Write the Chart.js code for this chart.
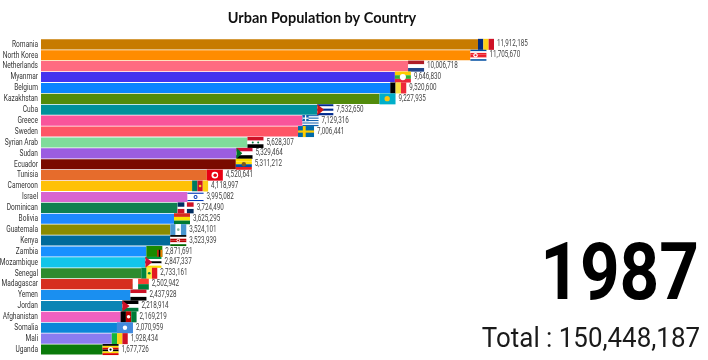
<!DOCTYPE html>
<html>
<head>
<meta charset="utf-8">
<title>Urban Population by Country</title>
<script src="https://cdn.jsdelivr.net/npm/chart.js@4"></script>
<style>
  html, body { margin: 0; padding: 0; background: #fff; }
  #wrap { width: 708px; height: 360px; }
</style>
</head>
<body>
<div id="wrap"><canvas id="grafica" width="708" height="360"></canvas></div>
<script>
const chartTitle = "Urban Population by Country";
const yearLabel = "1987";
const totalLabel = "Total : 150,448,187";

const paises = ["Romania", "North Korea", "Netherlands", "Myanmar", "Belgium", "Kazakhstan", "Cuba", "Greece", "Sweden",
  "Syrian Arab", "Sudan", "Ecuador", "Tunisia", "Cameroon", "Israel", "Dominican", "Bolivia", "Guatemala", "Kenya",
  "Zambia", "Mozambique", "Senegal", "Madagascar", "Yemen", "Jordan", "Afghanistan", "Somalia", "Mali", "Uganda"];

const valores = [11912185, 11705670, 10006718, 9646830, 9520600, 9227935, 7532650, 7129316, 7006441,
  5628307, 5329464, 5311212, 4520641, 4118997, 3995082, 3724490, 3625295, 3524101, 3523939,
  2871691, 2847337, 2733161, 2502942, 2437928, 2218914, 2169219, 2070959, 1928434, 1677726];

const colores = ["#c77b00", "#ff8c00", "#ff6b81", "#4433ee", "#0a84ff", "#528b0b", "#00909a", "#f9549b", "#ff5566",
  "#7fdc9a", "#9b5de0", "#7a0a00", "#e66c2c", "#ffc107", "#d864d0", "#0f8050", "#1e88ff", "#8b8b00", "#006a9a",
  "#1890ff", "#12c5ea", "#2e8b2e", "#d62f1f", "#1a8ff0", "#0b85b5", "#f060c0", "#0a86d8", "#8a7cf0", "#0a7a0a"];

// stripes of each flag: direction, then colours
const franjas = {
  "Romania": ["v", ["#002b7f", "#fcd116", "#ce1126"]],
  "North Korea": ["h", ["#024fa2", "#fff", "#ed1c27", "#ed1c27", "#ed1c27", "#fff", "#024fa2"]],
  "Netherlands": ["h", ["#ae1c28", "#fff", "#21468b"]],
  "Myanmar": ["h", ["#fecb00", "#34b233", "#ea2839"]],
  "Belgium": ["v", ["#000", "#fae042", "#ed2939"]],
  "Kazakhstan": ["h", ["#00afca"]],
  "Cuba": ["h", ["#002a8f", "#fff", "#002a8f", "#fff", "#002a8f"]],
  "Greece": ["h", ["#0d5eaf", "#fff", "#0d5eaf", "#fff", "#0d5eaf", "#fff", "#0d5eaf", "#fff", "#0d5eaf"]],
  "Sweden": ["h", ["#006aa7"]],
  "Syrian Arab": ["h", ["#ce1126", "#fff", "#000"]],
  "Sudan": ["h", ["#d21034", "#fff", "#000"]],
  "Ecuador": ["h", ["#ffdd00", "#ffdd00", "#034ea2", "#ed1c24"]],
  "Tunisia": ["h", ["#e70013"]],
  "Cameroon": ["v", ["#007a5e", "#ce1126", "#fcd116"]],
  "Israel": ["h", ["#fff", "#0038b8", "#fff", "#fff", "#fff", "#fff", "#fff", "#0038b8", "#fff"]],
  "Dominican": ["h", ["#fff"]],
  "Bolivia": ["h", ["#d52b1e", "#f9e300", "#007934"]],
  "Guatemala": ["v", ["#4997d0", "#fff", "#4997d0"]],
  "Kenya": ["h", ["#000", "#fff", "#bb0000", "#bb0000", "#fff", "#006600"]],
  "Zambia": ["h", ["#198a00"]],
  "Mozambique": ["h", ["#009a44", "#fff", "#000", "#fff", "#fce100"]],
  "Senegal": ["v", ["#00853f", "#fdef42", "#e31b23"]],
  "Madagascar": ["h", ["#fc3d32", "#007e3a"]],
  "Yemen": ["h", ["#ce1126", "#fff", "#000"]],
  "Jordan": ["h", ["#000", "#fff", "#007a3d"]],
  "Afghanistan": ["v", ["#000", "#be0000", "#007a36"]],
  "Somalia": ["h", ["#4189dd"]],
  "Mali": ["v", ["#14b53a", "#fcd116", "#ce1126"]],
  "Uganda": ["h", ["#000", "#fcdc04", "#d90000", "#000", "#fcdc04", "#d90000"]]
};

// extra shapes on a flag, in fractions of the flag box
const marcas = {
  "North Korea": [["disc", "#fff", 0.32, 0.5, 0.2], ["disc", "#ed1c27", 0.32, 0.5, 0.1]],
  "Myanmar": [["disc", "#fff", 0.5, 0.5, 0.28]],
  "Kazakhstan": [["disc", "#fec50c", 0.48, 0.48, 0.24]],
  "Cuba": [["tri", "#cb1515", 0.42]],
  "Greece": [["rect", "#0d5eaf", 0, 0, 0.38, 0.55], ["rect", "#fff", 0.15, 0, 0.08, 0.55], ["rect", "#fff", 0, 0.22, 0.38, 0.11]],
  "Sweden": [["rect", "#fecc00", 0.3, 0, 0.18, 1], ["rect", "#fecc00", 0, 0.4, 1, 0.2]],
  "Syrian Arab": [["disc", "#007a3d", 0.33, 0.5, 0.09], ["disc", "#007a3d", 0.67, 0.5, 0.09]],
  "Sudan": [["tri", "#007229", 0.36]],
  "Ecuador": [["disc", "#7a5a20", 0.5, 0.5, 0.2]],
  "Tunisia": [["disc", "#fff", 0.5, 0.5, 0.3], ["disc", "#e70013", 0.52, 0.5, 0.16]],
  "Cameroon": [["disc", "#fcd116", 0.5, 0.5, 0.12]],
  "Israel": [["disc", "#0038b8", 0.5, 0.5, 0.18], ["disc", "#fff", 0.5, 0.5, 0.09]],
  "Dominican": [["rect", "#002d62", 0, 0, 0.42, 0.4], ["rect", "#ce1126", 0.58, 0, 0.42, 0.4], ["rect", "#ce1126", 0, 0.6, 0.42, 0.4], ["rect", "#002d62", 0.58, 0.6, 0.42, 0.4]],
  "Guatemala": [["disc", "#8ab8a0", 0.5, 0.5, 0.12]],
  "Kenya": [["disc", "#fff", 0.5, 0.5, 0.16], ["disc", "#bb0000", 0.5, 0.5, 0.09]],
  "Zambia": [["rect", "#de2010", 0.68, 0.35, 0.1, 0.65], ["rect", "#000", 0.78, 0.35, 0.1, 0.65], ["rect", "#ef7d00", 0.88, 0.35, 0.12, 0.65]],
  "Mozambique": [["tri", "#d21034", 0.42]],
  "Senegal": [["disc", "#00853f", 0.5, 0.5, 0.12]],
  "Madagascar": [["rect", "#fff", 0, 0, 0.33, 1]],
  "Jordan": [["tri", "#ce1126", 0.45]],
  "Afghanistan": [["disc", "#fff", 0.5, 0.5, 0.16]],
  "Somalia": [["disc", "#fff", 0.5, 0.5, 0.2]],
  "Uganda": [["disc", "#fff", 0.5, 0.5, 0.24], ["disc", "#000", 0.5, 0.5, 0.1]]
};

const anchoBandera = 16;
const altoBandera = 11;

function dibujarBandera(ctx, pais, x, y) {
  const w = anchoBandera, h = altoBandera;
  const [dir, cols] = franjas[pais];
  cols.forEach((c, i) => {
    ctx.fillStyle = c;
    if (dir === "v") ctx.fillRect(x + i * w / cols.length, y, w / cols.length, h);
    else ctx.fillRect(x, y + i * h / cols.length, w, h / cols.length);
  });
  (marcas[pais] || []).forEach(m => {
    ctx.fillStyle = m[1];
    if (m[0] === "rect") {
      ctx.fillRect(x + m[2] * w, y + m[3] * h, m[4] * w, m[5] * h);
    } else if (m[0] === "disc") {
      ctx.beginPath();
      ctx.arc(x + m[2] * w, y + m[3] * h, m[4] * h, 0, Math.PI * 2);
      ctx.fill();
    } else {
      ctx.beginPath();
      ctx.moveTo(x, y);
      ctx.lineTo(x + m[2] * w, y + h / 2);
      ctx.lineTo(x, y + h);
      ctx.closePath();
      ctx.fill();
    }
  });
}

// Roboto squeezed sideways, the condensed face of the original is not installed
function textoAngosto(ctx, texto, x, y, escala) {
  ctx.save();
  ctx.translate(x, y);
  ctx.scale(escala, 1);
  ctx.fillText(texto, 0, 0);
  ctx.restore();
}

// country names, flags and value labels, then year and total on the right
const extras = {
  id: "extras",
  afterDatasetsDraw(chart) {
    const ctx = chart.ctx;
    const meta = chart.getDatasetMeta(0);
    const yScale = chart.scales.y;
    ctx.save();
    ctx.textBaseline = "middle";

    ctx.textAlign = "right";
    ctx.font = "9px Roboto";
    ctx.fillStyle = "#333";
    paises.forEach((p, i) => {
      textoAngosto(ctx, yScale.getLabelForValue(i), yScale.right - 3, yScale.getPixelForTick(i), 0.73);
    });

    ctx.textAlign = "left";
    ctx.font = "8.5px Roboto";
    meta.data.forEach((bar, i) => {
      dibujarBandera(ctx, paises[i], bar.x, bar.y - altoBandera / 2);
      ctx.fillStyle = "#444";
      textoAngosto(ctx, valores[i].toLocaleString("en-US"), bar.x + anchoBandera + 3, bar.y, 0.74);
    });

    ctx.textAlign = "right";
    ctx.textBaseline = "alphabetic";
    ctx.fillStyle = "#000";
    ctx.font = "bold 80px Roboto";
    textoAngosto(ctx, yearLabel, 699, 299, 0.865);
    ctx.fillStyle = "#1a1a1a";
    ctx.font = "28px Roboto";
    textoAngosto(ctx, totalLabel, 700, 347, 0.925);
    ctx.restore();
  }
};

new Chart(document.getElementById("grafica").getContext("2d"), {
  type: "bar",
  data: {
    labels: paises,
    datasets: [{
      data: valores,
      backgroundColor: colores,
      categoryPercentage: 1,
      barPercentage: 0.93
    }]
  },
  options: {
    indexAxis: "y",
    responsive: false,
    animation: false,
    layout: { padding: { right: 105, bottom: 5 } },
    plugins: {
      legend: { display: false },
      tooltip: { enabled: false },
      title: {
        display: true,
        text: chartTitle,
        fullSize: false,
        color: "#111",
        font: { family: 'Lato, sans-serif', size: 14.5, weight: "bold" },
        padding: { top: 9.5, bottom: 12 }
      }
    },
    scales: {
      x: { display: false, min: 0, max: 15320000 },
      y: {
        afterFit(scale) { scale.width = 41; },
        grid: { display: false },
        border: { display: false },
        ticks: { display: false }
      }
    }
  },
  plugins: [extras]
});
</script>
</body>
</html>
